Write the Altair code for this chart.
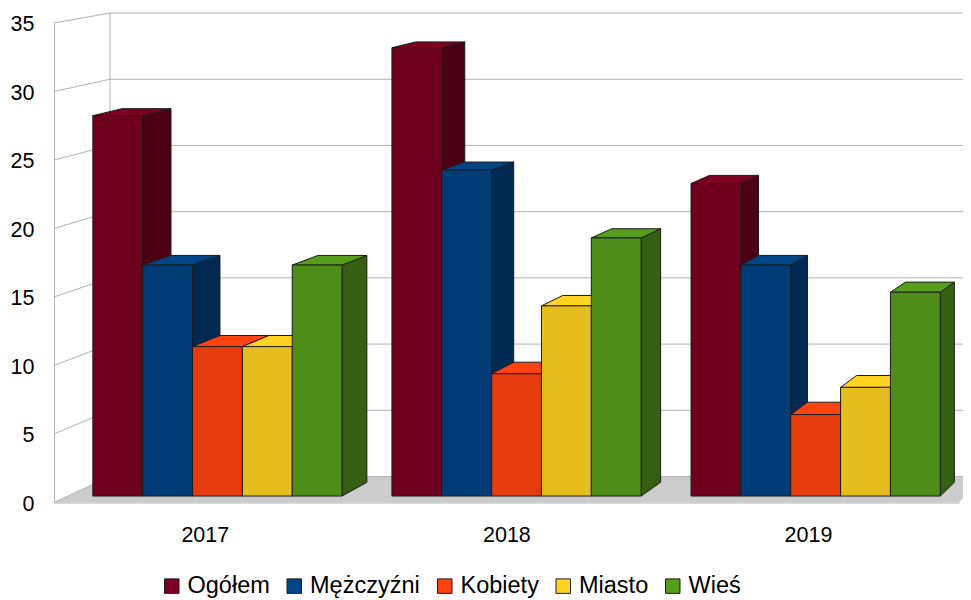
import altair as alt
import pandas as pd

YEARS = [2017, 2018, 2019]
SERIES = ["Ogółem", "Mężczyźni", "Kobiety", "Miasto", "Wieś"]
OGOLEM = [28, 33, 23]
MEZCZYZNI = [17, 24, 17]
KOBIETY = [11, 9, 6]
MIASTO = [11, 14, 8]
WIES = [17, 19, 15]
VALUES = [OGOLEM, MEZCZYZNI, KOBIETY, MIASTO, WIES]
TICKS = [0, 5, 10, 15, 20, 25, 30, 35]

TOP = ["#7e0021", "#004586", "#ff420e", "#ffd320", "#579d1c"]
FRONT = ["#6f001d", "#003d77", "#e63b0d", "#e5bd1d", "#4e8d19"]
SIDE = ["#4c0014", "#002a51", "#9a2809", "#9a8014", "#356011"]
GRID = "#b3b3b3"
FLOOR = "#cccccc"
EDGE = "#1c1c1c"
FONT = "Liberation Sans"

# one-point perspective of the 3D box, in axis units
VP_X, VP_Y = 2022.057, 56.8
S_BAR_FRONT, S_BAR_BACK, S_WALL = 0.9917, 0.974, 0.9666
X0, X1 = 2016.5, 2019.5
Y0, Y1 = 0, 35


def proj(u, v, s):
    return VP_X + s * (u - VP_X), VP_Y + s * (v - VP_Y)


fronts, sides, tops = [], [], []
for j, name in enumerate(SERIES):
    for i, year in enumerate(YEARS):
        val = VALUES[j][i]
        bar = f"{name}-{year}"
        left = year - 0.5 + (0.5 + j) / 6
        right = left + 1 / 6
        xl, yt = proj(left, val, S_BAR_FRONT)
        xr, yb = proj(right, 0, S_BAR_FRONT)
        fronts.append(dict(series=name, fill=FRONT[j], x=xl, x2=xr, y=yb, y2=yt))
        xbr, ybb = proj(right, 0, S_BAR_BACK)
        xbl, ybt = proj(left, val, S_BAR_BACK)
        xbr2, _ = proj(right, val, S_BAR_BACK)
        sides.append(dict(bar=bar, fill=SIDE[j], x=xr, y=yb, y2=yt))
        sides.append(dict(bar=bar, fill=SIDE[j], x=xbr, y=ybb, y2=ybt))
        tops.append(dict(bar=bar, series=name, y=yt, x=xl, x2=xr))
        tops.append(dict(bar=bar, series=name, y=ybt, x=xbl, x2=xbr2))

grid = []
for t in TICKS:
    bx, by = proj(X0, t, S_WALL)
    rx, ry = proj(X1, t, S_WALL)
    grid.append(dict(tick=t, o=0, x=X0, y=t))
    grid.append(dict(tick=t, o=1, x=bx, y=by))
    grid.append(dict(tick=t, o=2, x=rx, y=by))
blx, bly = proj(X0, Y0, S_WALL)
_, bty = proj(X0, Y1, S_WALL)
brx, _ = proj(X1, Y0, S_WALL)
floor = pd.DataFrame([
    dict(y=Y0, x=X0, x2=X1),
    dict(y=bly, x=blx, x2=brx),
])
backwall = pd.DataFrame([dict(x=blx, y=bly, y2=bty)])

xs = alt.Scale(domain=[X0, X1], nice=False, zero=False)
ys = alt.Scale(domain=[Y0, Y1], nice=False, zero=False)
AX = dict(
    scale=xs, title=None,
    axis=alt.Axis(values=YEARS, format="d", ticks=False, grid=False, domainColor=GRID,
                  labelFont=FONT, labelFontSize=21.5, labelColor="#000000", labelPadding=22),
)
AY = dict(
    scale=ys, title=None,
    axis=alt.Axis(values=TICKS, ticks=False, grid=False, domainColor=GRID,
                  labelFont=FONT, labelFontSize=21.5, labelColor="#000000", labelPadding=20,
                  labelOffset=1.5),
)

floor_l = alt.Chart(floor).mark_area(orient="horizontal", color=FLOOR).encode(
    y=alt.Y("y:Q", **AY), x=alt.X("x:Q", **AX), x2="x2:Q"
)
grid_l = alt.Chart(pd.DataFrame(grid)).mark_line(color=GRID, strokeWidth=1).encode(
    x=alt.X("x:Q", **AX), y=alt.Y("y:Q", **AY), detail="tick:N", order="o:Q",
)
wall_l = alt.Chart(backwall).mark_rule(color=GRID, strokeWidth=1).encode(
    x=alt.X("x:Q", **AX), y=alt.Y("y:Q", **AY), y2="y2:Q"
)
side_l = alt.Chart(pd.DataFrame(sides)).mark_area(stroke=EDGE, strokeWidth=1).encode(
    x=alt.X("x:Q", **AX), y=alt.Y("y:Q", **AY), y2="y2:Q",
    fill=alt.Fill("fill:N", scale=None), detail="bar:N",
)
top_l = alt.Chart(pd.DataFrame(tops)).mark_area(orient="horizontal", stroke=EDGE, strokeWidth=1).encode(
    y=alt.Y("y:Q", **AY), x=alt.X("x:Q", **AX), x2="x2:Q",
    fill=alt.Fill(
        "series:N",
        scale=alt.Scale(domain=SERIES, range=TOP),
        legend=alt.Legend(
            orient="none", legendX=106, legendY=551, direction="horizontal", columns=5,
            title=None, symbolType="square", symbolSize=210, symbolStrokeColor=EDGE,
            symbolStrokeWidth=1, symbolOpacity=1, labelFont=FONT, labelFontSize=23.5,
            labelColor="#000000", labelOffset=4, columnPadding=12.5, labelLimit=200,
        ),
    ),
    detail="bar:N",
)
front_l = alt.Chart(pd.DataFrame(fronts)).mark_rect(stroke=EDGE, strokeWidth=1).encode(
    x=alt.X("x:Q", **AX), x2="x2:Q", y=alt.Y("y:Q", **AY), y2="y2:Q",
    fill=alt.Fill("fill:N", scale=None),
)

chart = (
    alt.layer(floor_l, grid_l, wall_l, side_l, top_l, front_l)
    .resolve_scale(fill="independent")
    .properties(
        width=904.8, height=479.5,
        autosize=alt.AutoSizeParams(type="none"),
        padding={"left": 46, "top": 15, "right": 4.2, "bottom": 97.5},
    )
    .configure_view(stroke=None)
)
chart.save("out.html", embed_options={"renderer": "svg", "actions": False})
